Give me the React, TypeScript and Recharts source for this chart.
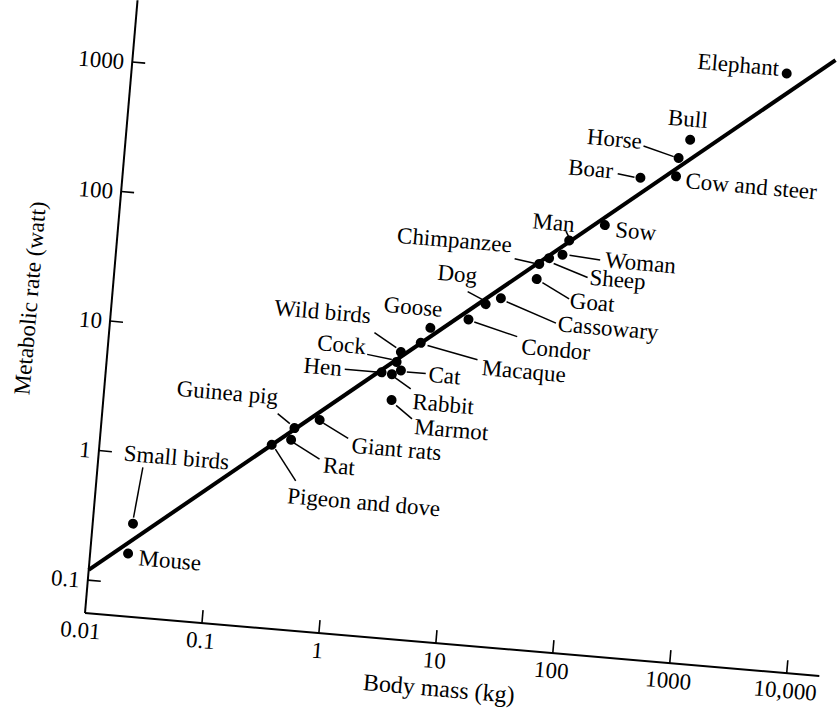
import React from "react";
import { ScatterChart, Scatter, XAxis, YAxis } from "recharts";

// metabolic rate vs body mass (log-log)
const animals = [
  "Mouse", "Small birds", "Pigeon and dove", "Guinea pig", "Rat", "Giant rats",
  "Marmot", "Hen", "Rabbit", "Cat", "Cock", "Wild birds", "Macaque", "Goose",
  "Condor", "Dog", "Cassowary", "Goat", "Chimpanzee", "Sheep", "Woman", "Man",
  "Sow", "Horse", "Bull", "Boar", "Cow and steer", "Elephant",
];
const massKg = [
  0.021, 0.022, 0.29, 0.44, 0.42, 0.71,
  2.8, 2.2, 2.7, 3.2, 2.9, 3.1, 4.5, 5.3,
  11, 15, 20, 39, 40, 48, 62, 69,
  135, 510, 620, 250, 500, 3660,
];
const rateWatt = [
  0.17, 0.29, 1.44, 2.0, 1.62, 2.4,
  3.8, 6.1, 6.0, 6.5, 7.5, 9.0, 10.9, 14.4,
  17.7, 23.8, 27, 40, 52.5, 59, 64, 83,
  115, 420, 590, 280, 303, 2200,
];

// fitted line end points
const fitMass = [0.01, 9300];
const fitRate = [0.12, 3000];

const xTicks = [0.01, 0.1, 1, 10, 100, 1000, 10000];
const yTicks = [0.1, 1, 10, 100, 1000];

const points = animals.map((name, i) => ({ name, m: massKg[i], w: rateWatt[i] }));
const fitData = fitMass.map((m, i) => ({ m, w: fitRate[i] }));

type Lbl = {
  tx: number;
  ty: number;
  anchor: "start" | "middle" | "end";
  leader?: [number, number, number, number];
};

// label placement relative to the dot
const LABELS: Record<string, Lbl> = {
  Mouse: { tx: 11, ty: 11, anchor: "start" },
  "Small birds": { tx: -15, ty: -62, anchor: "start", leader: [0, -6, 5, -57] },
  "Pigeon and dove": { tx: 20, ty: 57, anchor: "start", leader: [4, 4, 27, 34] },
  "Guinea pig": { tx: -19, ty: -22, anchor: "end", leader: [-18, -13, -5, -4] },
  Rat: { tx: 34, ty: 30, anchor: "start", leader: [3, 3, 30, 17] },
  "Giant rats": { tx: 34, ty: 30, anchor: "start", leader: [4, 3, 30, 16] },
  Marmot: { tx: 25, ty: 32, anchor: "start", leader: [5, 5, 22, 17] },
  Hen: { tx: -40, ty: 7, anchor: "end", leader: [-37, 0, -5, 0] },
  Rabbit: { tx: 23, ty: 33, anchor: "start", leader: [3, 3, 20, 13] },
  Cat: { tx: 28, ty: 9, anchor: "start", leader: [6, 1, 25, 1] },
  Cock: { tx: -32, ty: -5, anchor: "end", leader: [-30, -5, -5, -2] },
  "Wild birds": { tx: -33, ty: -26, anchor: "end", leader: [-28, -17, -5, -4] },
  Macaque: { tx: 63, ty: 27, anchor: "start", leader: [7, 2, 58, 12] },
  Goose: { tx: -19, ty: -12, anchor: "middle" },
  Condor: { tx: 55, ty: 30, anchor: "start", leader: [6, 2, 50, 13] },
  Dog: { tx: -11, ty: -20, anchor: "end", leader: [-19, -11, -3, -4] },
  Cassowary: { tx: 59, ty: 28, anchor: "start", leader: [6, 3, 57, 20] },
  Goat: { tx: 35, ty: 26, anchor: "start", leader: [6, 3, 34, 17] },
  Chimpanzee: { tx: -29, ty: -9, anchor: "end", leader: [-25, -3, -4, 0] },
  Sheep: { tx: 42, ty: 23, anchor: "start", leader: [5, 5, 40, 16] },
  Woman: { tx: 43, ty: 9, anchor: "start", leader: [7, 0, 38, 2] },
  Man: { tx: -17, ty: -9, anchor: "middle", leader: [-4, -9, -1, -4] },
  Sow: { tx: 11, ty: 11, anchor: "start" },
  Horse: { tx: -38, ty: -6, anchor: "end", leader: [-36, -9, -5, -1] },
  Bull: { tx: -4, ty: -13, anchor: "middle" },
  Boar: { tx: -28, ty: 3, anchor: "end", leader: [-23, -2, -6, 0] },
  "Cow and steer": { tx: 10, ty: 11, anchor: "start" },
  Elephant: { tx: -8, ty: 3, anchor: "end" },
};

const FONT = 23;

function AnimalDot(props: any) {
  const { cx, cy, payload } = props;
  const l = LABELS[payload.name];
  return (
    <g>
      <circle cx={cx} cy={cy} r={5} fill="#000" />
      {l && l.leader && (
        <line
          x1={cx + l.leader[0]}
          y1={cy + l.leader[1]}
          x2={cx + l.leader[2]}
          y2={cy + l.leader[3]}
          stroke="#000"
          strokeWidth={1.5}
        />
      )}
      {l && (
        <text x={cx + l.tx} y={cy + l.ty} textAnchor={l.anchor} fontSize={FONT} fill="#000">
          {payload.name}
        </text>
      )}
    </g>
  );
}

function XTick(props: any) {
  const { x, y, payload } = props;
  const v = payload.value;
  const label = v >= 10000 ? "10,000" : String(v);
  return (
    <g>
      {v > 0.01 && <line x1={x} y1={y} x2={x} y2={y - 13} stroke="#000" strokeWidth={1.6} />}
      <text x={v === 0.01 ? x - 3 : x} y={y + 25} textAnchor="middle" fontSize={FONT} fill="#000">
        {label}
      </text>
    </g>
  );
}

function YTick(props: any) {
  const { x, y, payload } = props;
  return (
    <g>
      <line x1={x} y1={y} x2={x + 13} y2={y} stroke="#000" strokeWidth={1.6} />
      <text x={x - 8} y={y + 8} textAnchor="end" fontSize={FONT} fill="#000">
        {String(payload.value)}
      </text>
    </g>
  );
}

export default function App() {
  return (
    <div
      style={{
        position: "absolute",
        left: 0,
        top: 0,
        width: 840,
        height: 710,
        overflow: "hidden",
        background: "#fff",
        fontFamily: '"Liberation Serif", "Times New Roman", serif',
      }}
    >
      {/* the scan is tilted about 5 degrees, so the whole plot is turned round the axis corner */}
      <div
        style={{
          position: "absolute",
          left: -20,
          top: -12,
          width: 860,
          height: 722,
          transform: "rotate(4.9deg)",
          transformOrigin: "105px 625px",
        }}
      >
        <ScatterChart width={860} height={722} margin={{ top: 10, right: 18, left: 0, bottom: 0 }}>
          <XAxis
            type="number"
            dataKey="m"
            scale="log"
            domain={[0.01, 19000]}
            ticks={xTicks}
            interval={0}
            height={97}
            tickLine={false}
            tickSize={0}
            tickMargin={0}
            tick={<XTick />}
            axisLine={{ stroke: "#000", strokeWidth: 2 }}
            label={(p: any) => {
              const vb = p.viewBox;
              return (
                <text x={vb.x + 359} y={vb.y + 53} textAnchor="middle" fontSize={24} fill="#000">
                  Body mass (kg)
                </text>
              );
            }}
          />
          <YAxis
            type="number"
            dataKey="w"
            scale="log"
            domain={[0.0557, 3000]}
            ticks={yTicks}
            interval={0}
            width={105}
            tickLine={false}
            tickSize={0}
            tickMargin={0}
            tick={<YTick />}
            axisLine={{ stroke: "#000", strokeWidth: 2 }}
            label={(p: any) => {
              const vb = p.viewBox;
              const cx = vb.x + vb.width - 74;
              const cy = vb.y + vb.height - 309;
              return (
                <text
                  x={cx}
                  y={cy}
                  textAnchor="middle"
                  fontSize={23}
                  fill="#000"
                  transform={`rotate(-90 ${cx} ${cy})`}
                >
                  Metabolic rate (watt)
                </text>
              );
            }}
          />
          <Scatter
            data={fitData}
            line={{ stroke: "#000", strokeWidth: 4 }}
            shape={() => <g />}
            isAnimationActive={false}
          />
          <Scatter data={points} shape={<AnimalDot />} isAnimationActive={false} />
        </ScatterChart>
      </div>
    </div>
  );
}
